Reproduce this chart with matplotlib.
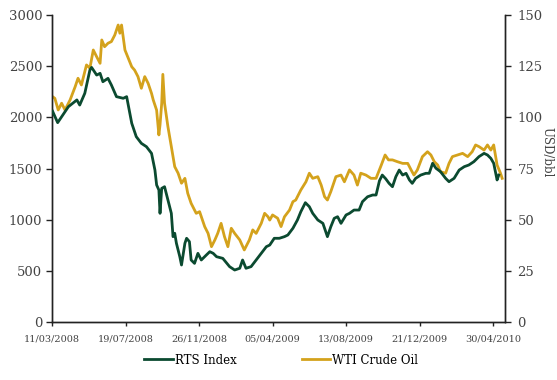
import numpy as np
import pandas as pd
import matplotlib
matplotlib.use('Agg')
import matplotlib.pyplot as plt

start = pd.Timestamp('2008-03-11')

# RTS Index: days after 11/03/2008, index level
rts_days = [1, 10, 29, 44, 49, 58, 67, 70, 79, 85, 90, 99, 105, 114, 126, 132, 141, 149, 158, 167,
            173, 176, 182, 185, 189, 191, 194, 199, 205, 211, 214, 217, 220, 226, 229, 235, 238, 243, 246, 252,
            258, 264, 273, 279, 285, 291, 302, 314, 323, 332, 337, 343, 352, 361, 370, 379, 385, 393, 402, 411,
            417, 426, 434, 440, 448, 455, 461, 470, 479, 487, 493, 499, 505, 511, 520, 526, 534, 543, 549, 558,
            567, 573, 579, 584, 590, 596, 602, 608, 614, 620, 626, 632, 637, 643, 652, 661, 667, 673, 679, 687,
            696, 702, 711, 720, 729, 737, 746, 755, 764, 770, 776, 781, 787, 790]
rts_vals = [2060, 1948, 2104, 2170, 2120, 2235, 2462, 2488, 2413, 2430, 2348, 2381, 2316, 2202, 2186, 2202, 1942, 1811, 1746, 1713,
            1670, 1648, 1485, 1339, 1290, 1062, 1306, 1322, 1192, 1062, 834, 867, 769, 638, 557, 769, 818, 785, 606, 573,
            671, 606, 655, 687, 671, 638, 622, 541, 508, 525, 606, 525, 541, 606, 671, 736, 752, 818, 818, 834,
            850, 916, 997, 1078, 1166, 1127, 1062, 997, 964, 834, 931, 1013, 1029, 964, 1046, 1062, 1094, 1094, 1176, 1224,
            1241, 1241, 1380, 1436, 1400, 1355, 1322, 1420, 1485, 1436, 1453, 1388, 1355, 1404, 1436, 1453, 1453, 1551, 1502, 1469,
            1404, 1371, 1404, 1485, 1518, 1534, 1567, 1616, 1648, 1632, 1599, 1551, 1388, 1436]

# WTI Crude Oil: days after 11/03/2008, USD/bbl
wti_days = [1, 5, 11, 17, 23, 32, 41, 46, 52, 61, 67, 73, 79, 85, 88, 93, 99, 105, 111, 117,
            120, 123, 129, 135, 141, 146, 152, 158, 164, 170, 176, 179, 185, 189, 191, 194, 196, 199, 205, 211,
            217, 223, 229, 235, 240, 246, 255, 261, 270, 276, 282, 288, 293, 299, 305, 311, 317, 323, 332, 340,
            349, 355, 361, 370, 376, 382, 385, 390, 399, 405, 411, 420, 426, 431, 440, 449, 455, 461, 470, 476,
            482, 487, 493, 502, 511, 517, 526, 534, 540, 546, 555, 564, 573, 582, 589, 595, 602, 611, 620, 629,
            635, 640, 646, 655, 664, 670, 676, 682, 687, 696, 702, 708, 717, 726, 735, 743, 749, 755, 764, 770,
            776, 781, 787, 793, 796]
wti_vals = [110.1, 109.3, 103.6, 106.9, 103.6, 108.5, 115.0, 119.1, 115.8, 125.6, 124.0, 132.9, 129.6, 126.4, 137.8, 134.5, 136.2, 137.0, 140.2, 145.1,
            141.1, 145.1, 132.9, 128.8, 124.7, 123.1, 119.9, 114.2, 119.9, 116.6, 111.7, 108.5, 103.5, 91.4, 96.3, 106.9, 121.0, 106.9, 95.4, 85.7,
            75.9, 72.7, 67.8, 70.2, 62.9, 58.0, 53.1, 53.9, 46.6, 43.3, 36.8, 40.1, 43.3, 48.2, 41.7, 36.8, 45.8, 43.3, 40.1, 35.2,
            40.1, 45.0, 43.3, 48.2, 53.1, 51.4, 49.8, 52.3, 50.7, 46.6, 51.4, 54.7, 58.8, 59.6, 64.5, 68.5, 72.7, 70.2, 71.0, 66.9,
            61.2, 59.6, 63.7, 71.0, 71.8, 68.5, 74.3, 71.8, 66.9, 72.7, 71.8, 70.2, 70.2, 76.5, 81.6, 79.2, 79.2, 78.3, 77.5, 77.5,
            74.3, 71.8, 74.3, 80.8, 83.2, 81.6, 78.3, 76.7, 73.4, 72.7, 77.5, 80.8, 81.6, 82.4, 80.8, 83.2, 86.5, 85.7, 84.0, 86.5,
            84.0, 86.5, 76.7, 72.7, 70.2]

tick_dates = ['11/03/2008', '19/07/2008', '26/11/2008', '05/04/2009', '13/08/2009', '21/12/2009', '30/04/2010']

green = '#0b4a30'
gold = '#d4a21c'

plt.rcParams['font.family'] = ['DejaVu Serif']

rts_x = start + pd.to_timedelta(rts_days, unit='D')
wti_x = start + pd.to_timedelta(wti_days, unit='D')
ticks = pd.to_datetime(tick_dates, format='%d/%m/%Y')

fig = plt.figure(figsize=(5.57, 3.80), dpi=100)
ax = fig.add_axes([52/557, 1-322/380, (505-52)/557, (322-15)/380])
ax2 = ax.twinx()

l1, = ax.plot(rts_x, rts_vals, color=green, lw=2.0, label='RTS Index', zorder=3)
l2, = ax2.plot(wti_x, wti_vals, color=gold, lw=2.0, label='WTI Crude Oil', zorder=2)
ax.set_zorder(ax2.get_zorder() + 1)
ax.patch.set_visible(False)

ax.set_xlim(start, start + pd.Timedelta(days=801))
ax.set_ylim(0, 3000)
ax2.set_ylim(0, 150)
ax.set_yticks(np.arange(0, 3001, 500))
ax2.set_yticks(np.arange(0, 151, 25))
ax.set_xticks(ticks)
ax.set_xticklabels(tick_dates)

for a in (ax, ax2):
    a.spines['top'].set_visible(False)
    for s in a.spines.values():
        s.set_linewidth(1.0)
        s.set_color('#222222')
ax.tick_params(axis='y', labelsize=9.5, length=4, width=1, colors='#222222', pad=3)
ax.tick_params(axis='x', labelsize=7, length=3, width=1, colors='#222222', pad=6)
ax2.tick_params(axis='y', labelsize=9.5, length=4, width=1, colors='#222222', pad=5)
for lab in ax.get_yticklabels() + ax2.get_yticklabels() + ax.get_xticklabels():
    lab.set_color('#444444')

ax2.set_ylabel('USD/bbl', rotation=270, fontsize=8.5, color='#444444', va='center')
ax2.yaxis.set_label_coords(1.092, 0.554)

fig.legend([l1, l2], ['RTS Index', 'WTI Crude Oil'], loc='center', ncol=2,
           bbox_to_anchor=(0.505, 1-360/380), frameon=False, fontsize=8.5,
           handlelength=2.4, handletextpad=0.2, columnspacing=5.5)

plt.savefig('out.png', dpi=100)
